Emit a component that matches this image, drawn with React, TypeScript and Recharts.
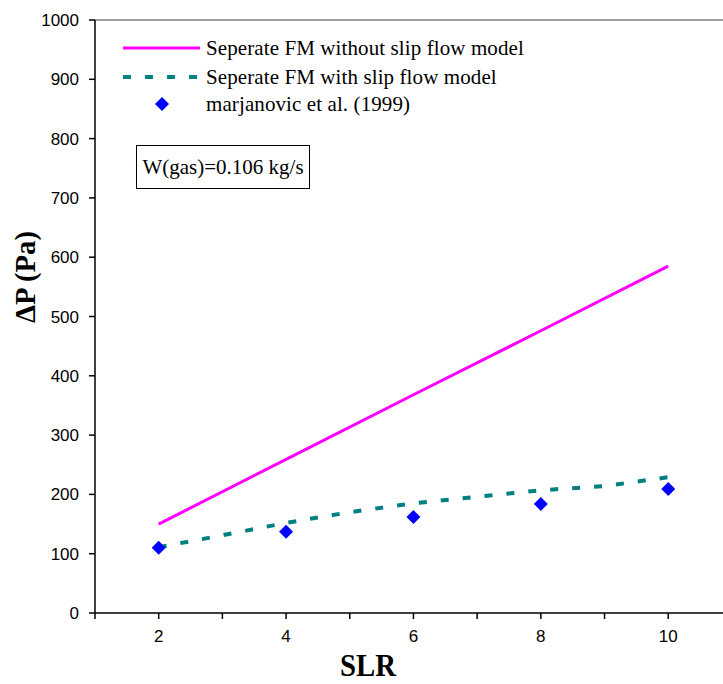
import React from "react";
import { ComposedChart, Line, Scatter, XAxis, YAxis, ReferenceLine, Label } from "recharts";

// SLR axis ticks (labels shown on even values only)
const slrTicks = [1, 2, 3, 4, 5, 6, 7, 8, 9, 10];
const dpTicks = [0, 100, 200, 300, 400, 500, 600, 700, 800, 900, 1000];

// Seperate FM without slip flow model
const noSlipSlr = [2, 4, 6, 8, 10];
const noSlipDp = [150, 259, 368, 476, 585];

// Seperate FM with slip flow model
const slipSlr = [2, 3, 4, 5, 6, 7, 8, 9, 10];
const slipDp = [111, 131, 152, 170, 185, 196, 207, 214, 229];

// marjanovic et al. (1999)
const expSlr = [2, 4, 6, 8, 10];
const expDp = [110, 137, 162, 184, 209];

const noSlipData = noSlipSlr.map((x, i) => ({ x, y: noSlipDp[i] }));
const slipData = slipSlr.map((x, i) => ({ x, y: slipDp[i] }));
const expData = expSlr.map((x, i) => ({ x, y: expDp[i] }));

const SERIF = "'Liberation Serif', 'Times New Roman', serif";
const SANS = "'Liberation Sans', Arial, sans-serif";

const Diamond = (props: any) => {
  const { cx, cy } = props;
  if (cx == null || cy == null) return null;
  const r = 7;
  return (
    <polygon
      points={`${cx},${cy - r} ${cx + r},${cy} ${cx},${cy + r} ${cx - r},${cy}`}
      fill="#0000FF"
    />
  );
};

const XTick = (props: any) => {
  const { x, y, payload } = props;
  if (payload.value % 2 !== 0) return null;
  return (
    <text x={x} y={y + 17} textAnchor="middle" fontFamily={SANS} fontSize={17} fill="#000">
      {payload.value}
    </text>
  );
};

const YTick = (props: any) => {
  const { x, y, payload } = props;
  return (
    <text x={x} y={y + 6} textAnchor="end" fontFamily={SANS} fontSize={17} fill="#000">
      {payload.value}
    </text>
  );
};

export default function App() {
  return (
    <div style={{ position: "absolute", left: 0, top: 0, width: 723, height: 684, background: "#fff" }}>
      <ComposedChart width={723} height={684} margin={{ top: 20, right: 0, left: 0, bottom: 0 }}>
        <XAxis
          type="number"
          dataKey="x"
          domain={[1, 10.86]}
          ticks={slrTicks}
          allowDataOverflow
          height={71}
          stroke="#000"
          strokeWidth={1.5}
          tickSize={6}
          tickMargin={6}
          tick={<XTick />}
        >
          <Label
            content={() => (
              <text
                x={368}
                y={676}
                textAnchor="middle"
                fontFamily={SERIF}
                fontWeight="bold"
                fontSize={32}
                textLength={56}
                lengthAdjust="spacingAndGlyphs"
                fill="#000"
              >
                SLR
              </text>
            )}
          />
        </XAxis>
        <YAxis
          type="number"
          domain={[0, 1000]}
          ticks={dpTicks}
          width={95}
          stroke="#000"
          strokeWidth={1.5}
          tickSize={6}
          tickMargin={10}
          tick={<YTick />}
        >
          <Label
            content={() => (
              <text
                x={0}
                y={0}
                transform="translate(35 277) rotate(-90)"
                textAnchor="middle"
                fontFamily={SERIF}
                fontWeight="bold"
                fontSize={29}
                textLength={92}
                lengthAdjust="spacingAndGlyphs"
                fill="#000"
              >
                ΔP (Pa)
              </text>
            )}
          />
        </YAxis>
        <ReferenceLine y={1000} stroke="#808080" strokeWidth={1.5} />
        <Line
          data={noSlipData}
          dataKey="y"
          type="linear"
          stroke="#FF00FF"
          strokeWidth={3}
          dot={false}
          isAnimationActive={false}
        />
        <Line
          data={slipData}
          dataKey="y"
          type="linear"
          stroke="#008080"
          strokeWidth={4}
          strokeDasharray="8 14"
          dot={false}
          isAnimationActive={false}
        />
        <Scatter data={expData} dataKey="y" shape={Diamond} isAnimationActive={false} />
      </ComposedChart>

      {/* legend + annotation */}
      <svg width={723} height={684} style={{ position: "absolute", left: 0, top: 0, pointerEvents: "none" }}>
        <g fontFamily={SERIF} fontSize={21} fill="#000">
          <line x1={123} y1={48} x2={200} y2={48} stroke="#FF00FF" strokeWidth={3} />
          <text x={206} y={55} letterSpacing={0.1}>Seperate FM without slip flow model</text>
          <line x1={123} y1={77} x2={200} y2={77} stroke="#008080" strokeWidth={4} strokeDasharray="8 14" />
          <text x={206} y={84} letterSpacing={0.1}>Seperate FM with slip flow model</text>
          <Diamond cx={162} cy={104} />
          <text x={206} y={111} letterSpacing={0.1}>marjanovic et al. (1999)</text>
          <rect x={136.5} y={145.5} width={173} height={43} fill="#fff" stroke="#000" strokeWidth={1} />
          <text x={223} y={174} textAnchor="middle">W(gas)=0.106 kg/s</text>
        </g>
      </svg>
    </div>
  );
}
